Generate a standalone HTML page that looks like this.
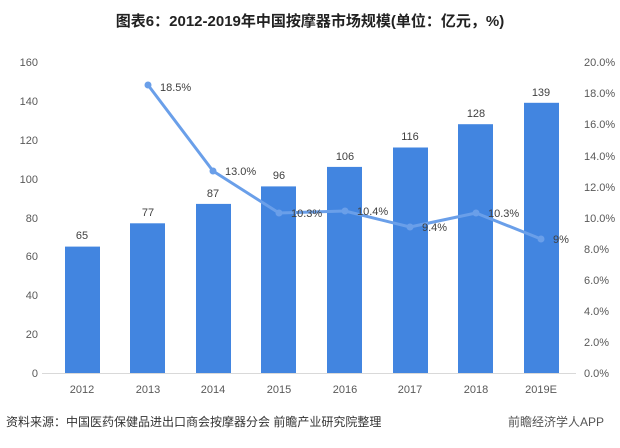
<!DOCTYPE html>
<html><head><meta charset="utf-8"><style>
body{margin:0;background:#fff;width:620px;height:443px;overflow:hidden}
svg text{font-family:"Liberation Sans","Noto Sans CJK SC",sans-serif}
</style></head><body>
<svg width="620" height="443" viewBox="0 0 620 443" xmlns="http://www.w3.org/2000/svg">
<text x="310" y="26" text-anchor="middle" font-size="15" font-weight="bold" fill="#222">图表6：2012-2019年中国按摩器市场规模(单位：亿元，%)</text>
<g font-size="11" fill="#595959" text-anchor="end">
<text x="38" y="377">0</text><text x="38" y="338">20</text><text x="38" y="299">40</text><text x="38" y="260">60</text><text x="38" y="222">80</text><text x="38" y="183">100</text><text x="38" y="144">120</text><text x="38" y="105">140</text><text x="38" y="66">160</text>
</g>
<g font-size="11" fill="#595959" text-anchor="start">
<text x="584" y="377">0.0%</text><text x="584" y="346">2.0%</text><text x="584" y="315">4.0%</text><text x="584" y="284">6.0%</text><text x="584" y="253">8.0%</text><text x="584" y="222">10.0%</text><text x="584" y="191">12.0%</text><text x="584" y="160">14.0%</text><text x="584" y="128">16.0%</text><text x="584" y="97">18.0%</text><text x="584" y="66">20.0%</text>
</g>
<line x1="42" y1="373.5" x2="576" y2="373.5" stroke="#d9d9d9"/>
<g fill="#4285e0">
<rect x="65" y="246.6" width="35" height="126.4"/>
<rect x="130" y="223.3" width="35" height="149.7"/>
<rect x="196" y="203.9" width="35" height="169.1"/>
<rect x="261" y="186.4" width="35" height="186.6"/>
<rect x="327" y="166.9" width="35" height="206.1"/>
<rect x="393" y="147.5" width="35" height="225.5"/>
<rect x="458" y="124.2" width="35" height="248.8"/>
<rect x="524" y="102.8" width="35" height="270.2"/>
</g>
<g font-size="11" fill="#404040" text-anchor="middle">
<text x="82" y="239">65</text><text x="148" y="216">77</text><text x="213" y="197">87</text><text x="279" y="179">96</text><text x="345" y="160">106</text><text x="410" y="140">116</text><text x="476" y="117">128</text><text x="541" y="96">139</text>
</g>
<g font-size="11" fill="#595959" text-anchor="middle">
<text x="82" y="393">2012</text><text x="148" y="393">2013</text><text x="213" y="393">2014</text><text x="279" y="393">2015</text><text x="345" y="393">2016</text><text x="410" y="393">2017</text><text x="476" y="393">2018</text><text x="541" y="393">2019E</text>
</g>
<polyline points="148,85 213,171 279,213 345,211 410,227 476,213 541,239" fill="none" stroke="#6a9fe9" stroke-width="3" stroke-linejoin="round"/>
<g fill="#6a9fe9">
<circle cx="148" cy="85" r="3.5"/><circle cx="213" cy="171" r="3.5"/><circle cx="279" cy="213" r="3.5"/><circle cx="345" cy="211" r="3.5"/><circle cx="410" cy="227" r="3.5"/><circle cx="476" cy="213" r="3.5"/><circle cx="541" cy="239" r="3.5"/>
</g>
<g font-size="11" fill="#404040">
<text x="160" y="91">18.5%</text><text x="225" y="175">13.0%</text><text x="291" y="217">10.3%</text><text x="357" y="215">10.4%</text><text x="422" y="231">9.4%</text><text x="488" y="217">10.3%</text><text x="553" y="243">9%</text>
</g>
<text x="6" y="426" font-size="12" fill="#333">资料来源：中国医药保健品进出口商会按摩器分会 前瞻产业研究院整理</text>
<text x="508" y="426" font-size="12" fill="#555">前瞻经济学人APP</text>
</svg>
</body></html>
